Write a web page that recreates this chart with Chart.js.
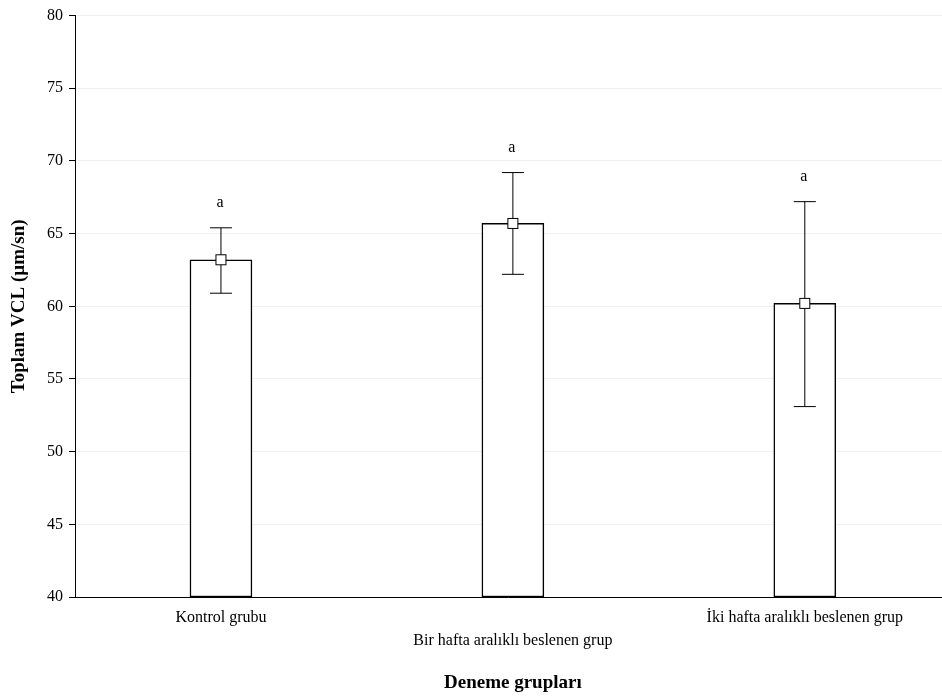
<!DOCTYPE html>
<html><head><meta charset="utf-8">
<script src="https://cdn.jsdelivr.net/npm/chart.js@4/dist/chart.umd.min.js"></script>
<style>html,body{margin:0;background:#fff}#w{width:942px;height:700px}</style>
</head><body><div id="w"><canvas id="c"></canvas></div>
<script>
const categories = ["Kontrol grubu", "Bir hafta aralıklı beslenen grup", "İki hafta aralıklı beslenen grup"];
const means = [63.2, 65.7, 60.2];
const errLow = [60.9, 62.2, 53.1];
const errHigh = [65.4, 69.2, 67.2];
const letters = ["a", "a", "a"];
const yTicks = [40, 45, 50, 55, 60, 65, 70, 75, 80];
const F = "'Liberation Serif','Times New Roman',serif";

const extras = {
  id: 'extras',
  afterDatasetsDraw(ch) {
    const {ctx, scales:{x, y}, chartArea:a} = ch;
    ctx.save();
    ctx.strokeStyle = '#000'; ctx.lineWidth = 1;
    ctx.beginPath(); ctx.moveTo(a.left, a.bottom + 0.5); ctx.lineTo(a.right, a.bottom + 0.5); ctx.stroke();
    categories.forEach((c, i) => {
      const px = x.getPixelForValue(i);
      const lo = y.getPixelForValue(errLow[i]), hi = y.getPixelForValue(errHigh[i]), m = y.getPixelForValue(means[i]);
      ctx.beginPath();
      ctx.moveTo(px, lo); ctx.lineTo(px, hi);
      ctx.moveTo(px - 11, lo); ctx.lineTo(px + 11, lo);
      ctx.moveTo(px - 11, hi); ctx.lineTo(px + 11, hi);
      ctx.stroke();
      ctx.fillStyle = '#fff'; ctx.fillRect(px - 5, m - 5, 10, 10); ctx.strokeRect(px - 5, m - 5, 10, 10);
      ctx.fillStyle = '#000'; ctx.font = '16px ' + F; ctx.textAlign = 'center';
      ctx.textBaseline = 'bottom';
      ctx.fillText(letters[i], px - 1, hi - 17);
      ctx.textBaseline = 'middle';
      ctx.fillText(c, px, i === 1 ? 641 : 618);
    });
    ctx.font = 'bold 19px ' + F;
    ctx.fillText('Deneme grupları', x.getPixelForValue(1), 683);
    ctx.restore();
  }
};

new Chart(document.getElementById('c'), {
  type: 'bar',
  data: { datasets: [{
    data: means.map((v, i) => ({x: i, y: [40, v]})),
    backgroundColor: '#fff', borderColor: '#000', borderWidth: 1.5, borderSkipped: false,
    barThickness: 62
  }]},
  options: {
    responsive: true, maintainAspectRatio: false, animation: false,
    layout: { padding: { top: 13, right: 0, bottom: 103, left: 4 } },
    plugins: { legend: {display: false}, tooltip: {enabled: false} },
    scales: {
      x: { type: 'linear', min: -0.5, max: 2.47, offset: false, display: false },
      y: { min: 40, max: 80,
        afterBuildTicks: s => { s.ticks = yTicks.map(v => ({value: v})); },
        afterFit: s => { s.width = 71; },
        ticks: { color: '#000', font: {family: F, size: 16}, padding: 6 },
        grid: { color: '#f0f0f0', tickColor: '#000', tickLength: 6 },
        border: { color: '#000', width: 1 },
        title: { display: true, text: 'Toplam VCL (µm/sn)', color: '#000', font: {family: F, size: 19, weight: 'bold'}, padding: 4 }
      }
    }
  },
  plugins: [extras]
});
</script></body></html>
